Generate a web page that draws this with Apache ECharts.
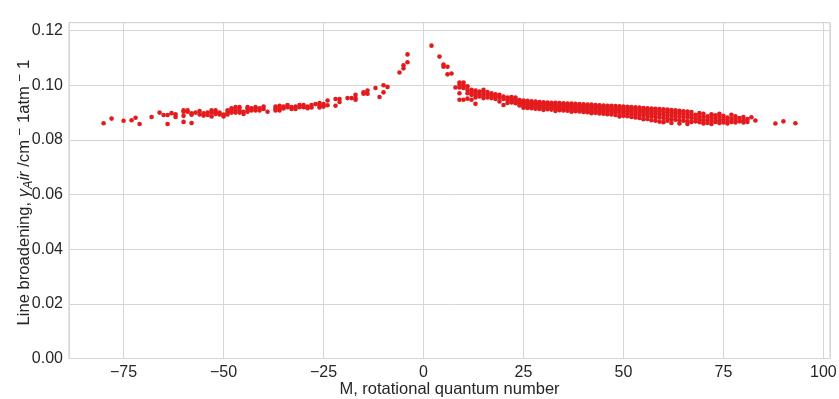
<!DOCTYPE html>
<html><head><meta charset="utf-8">
<script src="https://cdn.jsdelivr.net/npm/echarts@6/dist/echarts.min.js"></script>
<style>html,body{margin:0;padding:0;background:#fff}#c{width:839px;height:399px}</style>
</head><body><div id="c"></div>
<script>
// Tick labels
const xTicks = [-75, -50, -25, 0, 25, 50, 75, 100];
const yTicks = [0, 0.02, 0.04, 0.06, 0.08, 0.10, 0.12];

// Negative-M branch (rotational quantum number M, line broadening values)
const leftM = [-80,-78,-75,-73,-72,-71,-68,-66,-65,-64,-63,-62,-60,-59,-58,-57,-56,-55,-54,-53,
  -52,-51,-50,-49,-48,-47,-46,-45,-44,-43,-42,-41,-40,-39,-37,-36,-35,-34,-33,-32,
  -31,-30,-29,-28,-27,-26,-25,-24,-22,-21,-19,-18,-17,-15,-14,-12,-11,-10,-9,-6,-5,-4];
const leftGamma = [
  [0.0861],[0.0878],[0.0870],[0.0872],[0.0881],[0.0858],[0.0884],[0.0900],[0.0891],[0.0891,0.0858],
  [0.0898],[0.0894,0.0884],[0.0908,0.0903,0.0888,0.0866],[0.0908,0.0903],[0.0897,0.0892,0.0862],[0.0900],[0.0906,0.0893],[0.0897,0.0889],[0.0900,0.0891],[0.0908,0.0900,0.0886],
  [0.0908,0.0900,0.0895],[0.0900,0.0893],[0.0893,0.0886],[0.0908,0.0900,0.0893],[0.0916,0.0908,0.0900],[0.0920,0.0910,0.0900],[0.0920,0.0908,0.0900],[0.0903,0.0895],[0.0920,0.0913,0.0903],[0.0916,0.0908],
  [0.0920,0.0908],[0.0916,0.0908],[0.0922,0.0913],[0.0903],[0.0922,0.0915,0.0908],[0.0925,0.0916,0.0908],[0.0922,0.0915],[0.0928,0.0920],[0.0920,0.0913],[0.0922,0.0913],
  [0.0928,0.0920],[0.0928,0.0920],[0.0922,0.0916],[0.0928,0.0919],[0.0931],[0.0935,0.0926,0.0919],[0.0931,0.0922],[0.0944,0.0927],[0.0950,0.0925],[0.0950,0.0939],
  [0.0953],[0.0953],[0.0965,0.0953,0.0947],[0.0974,0.0969],[0.0981,0.0969],[0.0990],[0.0957],[0.1000,0.0974],[0.0994],[0.1047],
  [0.1073,0.1062],[0.1113,0.1084]
];

// Positive-M branch
const rightM = [2,4,5,6,7,8,9,10,11,12,13,14,15,16,17,18,19,20,21,22,
  23,24,25,26,27,28,29,30,31,32,33,34,35,36,37,38,39,40,41,42,
  43,44,45,46,47,48,49,50,51,52,53,54,55,56,57,58,59,60,61,62,
  63,64,65,66,67,68,69,70,71,72,73,74,75,76,77,78,79,80,81,82,
  83,88,90,93];
const rightGamma = [
  [0.1145],[0.1105],[0.1076,0.1068],[0.1068,0.1040],[0.1043],[0.0992],[0.1010,0.1002,0.0992,0.0971,0.0947],[0.1010,0.1000,0.0990,0.0947],[0.0996,0.0983,0.0971,0.0951],[0.0983,0.0975,0.0965,0.0947],
  [0.0981,0.0973,0.0965,0.0955,0.0932],[0.0977,0.0967,0.0959],[0.0983,0.0975,0.0965,0.0953],[0.0975,0.0965,0.0955],[0.0971,0.0963,0.0953],[0.0967,0.0959,0.0950],[0.0965,0.0955,0.0941],[0.0959,0.0950,0.0928],[0.0955,0.0947,0.0935],[0.0957,0.0950,0.0943,0.0937],
  [0.0955,0.0948,0.0941,0.0934],[0.0946,0.0940,0.0933,0.0926],[0.0944,0.0938,0.0931,0.0924,0.0918],[0.0943,0.0936,0.0930,0.0923,0.0917],[0.0941,0.0935,0.0929,0.0922,0.0916],[0.0940,0.0934,0.0928,0.0921,0.0914],[0.0939,0.0933,0.0927,0.0920,0.0913],[0.0938,0.0932,0.0926,0.0919,0.0910],[0.0937,0.0931,0.0925,0.0918,0.0912],[0.0936,0.0930,0.0924,0.0917,0.0911],
  [0.0936,0.0929,0.0923,0.0916,0.0906],[0.0935,0.0929,0.0922,0.0915,0.0909],[0.0934,0.0928,0.0921,0.0914,0.0908],[0.0933,0.0927,0.0920,0.0913,0.0907],[0.0933,0.0926,0.0920,0.0912,0.0903],[0.0932,0.0925,0.0919,0.0911,0.0905],[0.0931,0.0924,0.0918,0.0910,0.0904],[0.0930,0.0924,0.0917,0.0909,0.0902],[0.0929,0.0923,0.0916,0.0908,0.0901],[0.0929,0.0922,0.0915,0.0907,0.0898],
  [0.0928,0.0921,0.0914,0.0906,0.0899],[0.0927,0.0920,0.0913,0.0905,0.0897],[0.0926,0.0919,0.0912,0.0904,0.0896],[0.0925,0.0918,0.0911,0.0903,0.0894],[0.0925,0.0917,0.0910,0.0902,0.0893],[0.0924,0.0916,0.0909,0.0900,0.0891],[0.0923,0.0915,0.0908,0.0899,0.0886],[0.0922,0.0914,0.0906,0.0897,0.0888],[0.0921,0.0913,0.0905,0.0896,0.0887],[0.0920,0.0912,0.0904,0.0895,0.0884],
  [0.0919,0.0911,0.0902,0.0893,0.0882],[0.0918,0.0910,0.0901,0.0891,0.0880],[0.0917,0.0909,0.0900,0.0890,0.0876],[0.0916,0.0908,0.0898,0.0888,0.0877],[0.0915,0.0906,0.0897,0.0886,0.0872],[0.0914,0.0905,0.0895,0.0884,0.0870],[0.0913,0.0904,0.0894,0.0882,0.0867],[0.0912,0.0903,0.0892,0.0880,0.0865],[0.0911,0.0901,0.0890,0.0878,0.0870],[0.0909,0.0900,0.0889,0.0876,0.0862],
  [0.0908,0.0898,0.0887,0.0874],[0.0907,0.0897,0.0885,0.0872,0.0860],[0.0905,0.0895,0.0884,0.0870],[0.0904,0.0893,0.0882,0.0868,0.0858],[0.0902,0.0891,0.0880,0.0866],[0.0892,0.0880,0.0868],[0.0898,0.0887,0.0876,0.0865],[0.0896,0.0884,0.0872,0.0860],[0.0886,0.0874,0.0862],[0.0894,0.0882,0.0870,0.0858],
  [0.0890,0.0878,0.0866],[0.0896,0.0884,0.0872,0.0862],[0.0888,0.0876,0.0864],[0.0882,0.0870,0.0860],[0.0892,0.0878,0.0866],[0.0886,0.0874,0.0864],[0.0880,0.0868],[0.0884,0.0872,0.0864],[0.0876,0.0866],[0.0883],
  [0.0871],[0.0860],[0.0868],[0.0861]
];

function toPairs(ms, gs) {
  const out = [];
  ms.forEach((m, i) => (gs[i] || []).forEach(g => out.push([m, g])));
  return out;
}
const points = toPairs(leftM, leftGamma).concat(toPairs(rightM, rightGamma));

const FONT = '"Liberation Sans", Arial, sans-serif';
const TXT = '#262626';
const GRIDC = '#d6d6d6';
function isTick(v, list) { return list.some(t => Math.abs(t - v) < 1e-7); }

const chart = echarts.init(document.getElementById('c'), null, {renderer: 'canvas'});
chart.setOption({
  animation: false,
  backgroundColor: '#ffffff',
  grid: {left: 69, right: 9, top: 22.7, bottom: 40.5, show: true, borderColor: '#cccccc', borderWidth: 1,
    backgroundColor: 'transparent', containLabel: false, outerBoundsMode: 'none'},
  xAxis: {
    type: 'value', min: -88.65, max: 101.65, minInterval: 25, maxInterval: 25,
    axisLine: {show: false}, axisTick: {show: false},
    splitLine: {show: true, lineStyle: {color: GRIDC, width: 1}},
    axisLabel: {
      fontFamily: FONT, fontSize: 16, color: TXT, margin: 6,
      formatter: v => isTick(v, xTicks) ? (v < 0 ? '\u2212' + Math.abs(v) : String(v)) : ''
    },
    name: 'M, rotational quantum number', nameLocation: 'middle', nameGap: 22.5, nameMoveOverlap: false,
    nameTextStyle: {fontFamily: FONT, fontSize: 16.5, color: TXT}
  },
  yAxis: {
    type: 'value', min: 0, max: 0.1229, minInterval: 0.02, maxInterval: 0.02,
    axisLine: {show: false}, axisTick: {show: false},
    splitLine: {show: true, lineStyle: {color: GRIDC, width: 1}},
    axisLabel: {
      fontFamily: FONT, fontSize: 16, color: TXT, margin: 6,
      formatter: v => isTick(v, yTicks) ? v.toFixed(2) : ''
    },
    name: '{n|Line broadening, }{gi|\u03b3}{sub|A}{it|ir}{n| /cm }{sup|\u2212}{n| 1atm }{sup|\u2212}{n| 1}',
    nameLocation: 'middle', nameGap: 34, nameMoveOverlap: false,
    nameTextStyle: {
      fontFamily: FONT, fontSize: 16.6, color: TXT, padding: [0, 4, 0, 0],
      rich: {
        n: {fontFamily: FONT, fontSize: 16.6, color: TXT, lineHeight: 22},
        gi: {fontFamily: FONT, fontSize: 16.6, color: TXT, fontStyle: 'italic', lineHeight: 22},
        it: {fontFamily: FONT, fontSize: 16.6, color: TXT, fontStyle: 'italic', lineHeight: 22},
        sub: {fontFamily: FONT, fontSize: 12.5, color: TXT, fontStyle: 'italic', lineHeight: 14, verticalAlign: 'bottom'},
        sup: {fontFamily: FONT, fontSize: 13.5, color: TXT, lineHeight: 14, verticalAlign: 'top'}
      }
    }
  },
  series: [{
    type: 'scatter', data: points, symbolSize: 4.6,
    itemStyle: {color: '#e41a1c', opacity: 1},
    emphasis: {disabled: true}
  }]
});
</script>
</body></html>
